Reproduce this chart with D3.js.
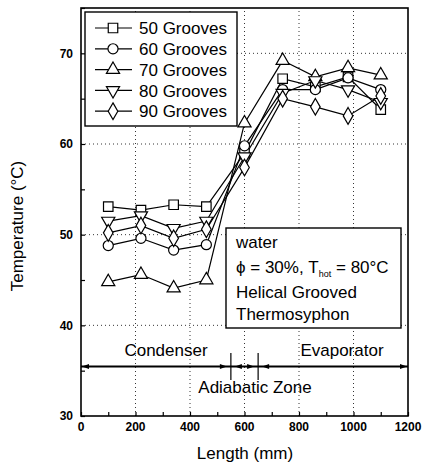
<!DOCTYPE html>
<html lang="en">
<head>
<meta charset="UTF-8">
<title>Helical Grooved Thermosyphon</title>
<style>
  body { margin: 0; background: #fff; }
  text { font-family: "Liberation Sans", Arial, sans-serif; fill: #000; }
</style>
</head>
<body>
<script src="https://d3js.org/d3.v7.min.js"></script>
<script>
    // measuring positions along the pipe (mm)
    var lengths = [100, 220, 340, 460, 600, 740, 860, 980, 1100];

    var seriesNames = ["50 Grooves", "60 Grooves", "70 Grooves", "80 Grooves", "90 Grooves"];
    var seriesSymbols = ["square", "circle", "triangle", "down", "diamond"];

    var grooves50 = [53.1, 52.7, 53.3, 53.1, 59.0, 67.2, 66.3, 67.4, 63.8];
    var grooves60 = [48.8, 49.6, 48.3, 48.9, 59.8, 66.0, 66.0, 67.3, 66.0];
    var grooves70 = [44.8, 45.6, 44.1, 45.0, 62.3, 69.2, 67.4, 68.4, 67.6];
    var grooves80 = [51.5, 52.1, 50.7, 51.5, 58.6, 65.6, 67.0, 66.0, 64.6];
    var grooves90 = [50.2, 51.0, 49.6, 50.6, 57.4, 65.0, 64.1, 63.1, 65.3];
    var allSeries = [grooves50, grooves60, grooves70, grooves80, grooves90];

    var xTicks = [0, 200, 400, 600, 800, 1000, 1200];
    var yTicks = [30, 40, 50, 60, 70];

    // zones of the thermosyphon (mm)
    var zoneBounds = [0, 550, 650, 1200];

    var width = 423, height = 466;
    var svg = d3.select("body").append("svg")
        .attr("width", width).attr("height", height);

    var x = d3.scaleLinear().domain([0, 1200]).range([81, 408]);
    var y = d3.scaleLinear().domain([30, 75]).range([416, 8]);

    // dotted grid
    svg.append("g").selectAll("line").data([200, 400, 600, 800, 1000])
        .enter().append("line")
        .attr("x1", function(d){ return x(d); }).attr("x2", function(d){ return x(d); })
        .attr("y1", y(30)).attr("y2", y(75))
        .attr("stroke", "#000").attr("stroke-width", 0.8).attr("stroke-dasharray", "1,3");
    svg.append("g").selectAll("line").data([40, 50, 60, 70])
        .enter().append("line")
        .attr("x1", x(0)).attr("x2", x(1200))
        .attr("y1", function(d){ return y(d); }).attr("y2", function(d){ return y(d); })
        .attr("stroke", "#000").attr("stroke-width", 0.8).attr("stroke-dasharray", "1,3");

    // axes, ticks pointing inward
    var xAxis = svg.append("g").attr("transform", "translate(0," + y(30) + ")")
        .call(d3.axisBottom(x).tickValues(d3.range(0, 1201, 100)).tickSize(-4).tickFormat(""));
    var yAxis = svg.append("g").attr("transform", "translate(" + x(0) + ",0)")
        .call(d3.axisLeft(y).tickValues(d3.range(30, 76, 5)).tickSize(-4).tickFormat(""));
    [xAxis, yAxis].forEach(function(a){
        a.select(".domain").remove();
        a.selectAll("line").attr("stroke", "#000").attr("stroke-width", 1.2);
    });

    svg.append("g").selectAll("text").data(xTicks).enter().append("text")
        .attr("x", function(d){ return x(d); }).attr("y", 431)
        .attr("text-anchor", "middle").attr("font-size", 12).attr("font-weight", "bold")
        .text(function(d){ return d; });
    svg.append("g").selectAll("text").data(yTicks).enter().append("text")
        .attr("x", 73).attr("y", function(d){ return y(d); }).attr("dy", "0.35em")
        .attr("text-anchor", "end").attr("font-size", 12).attr("font-weight", "bold")
        .text(function(d){ return d; });

    svg.append("rect")
        .attr("x", x(0)).attr("y", y(75))
        .attr("width", x(1200) - x(0)).attr("height", y(30) - y(75))
        .attr("fill", "none").attr("stroke", "#000").attr("stroke-width", 1.6);

    svg.append("text").attr("x", 245).attr("y", 459)
        .attr("text-anchor", "middle").attr("font-size", 17).text("Length (mm)");
    svg.append("text").attr("transform", "translate(23,226) rotate(-90)")
        .attr("text-anchor", "middle").attr("font-size", 17).text("Temperature (°C)");

    // markers
    var symbolTypes = {
        square: d3.symbolSquare, circle: d3.symbolCircle, triangle: d3.symbolTriangle,
        down: d3.symbolTriangle, diamond: d3.symbolDiamond
    };
    var symbolSizes = { square: 90, circle: 80, triangle: 75, down: 75, diamond: 80 };
    function marker(g, kind, cx, cy) {
        g.append("path")
            .attr("d", d3.symbol().type(symbolTypes[kind]).size(symbolSizes[kind])())
            .attr("transform", "translate(" + cx + "," + cy + ")" + (kind == "down" ? " rotate(180)" : ""))
            .attr("fill", "#fff").attr("stroke", "#000").attr("stroke-width", 1.2);
    }

    var line = d3.line()
        .x(function(d, i){ return x(lengths[i]); })
        .y(function(d){ return y(d); });

    allSeries.forEach(function(vals){
        svg.append("path").datum(vals).attr("d", line)
            .attr("fill", "none").attr("stroke", "#000").attr("stroke-width", 1.2);
    });
    allSeries.forEach(function(vals, s){
        var g = svg.append("g");
        vals.forEach(function(v, i){ marker(g, seriesSymbols[s], x(lengths[i]), y(v)); });
    });

    // legend
    var leg = svg.append("g");
    leg.append("rect").attr("x", 85).attr("y", 12).attr("width", 152).attr("height", 114)
        .attr("fill", "#fff").attr("stroke", "#000").attr("stroke-width", 1.4);
    seriesNames.forEach(function(name, i){
        var ly = 28 + i * 20.8;
        leg.append("line").attr("x1", 95).attr("x2", 132).attr("y1", ly).attr("y2", ly)
            .attr("stroke", "#000").attr("stroke-width", 1.2);
        marker(leg, seriesSymbols[i], 113, ly);
        leg.append("text").attr("x", 139).attr("y", ly).attr("dy", "0.36em")
            .attr("font-size", 17).text(name);
    });

    // annotation box
    var note = svg.append("g");
    note.append("rect").attr("x", 226).attr("y", 228).attr("width", 175).attr("height", 100)
        .attr("fill", "#fff").attr("stroke", "#000").attr("stroke-width", 1.4);
    note.append("text").attr("x", 236).attr("y", 248).attr("font-size", 17).text("water");
    var t2 = note.append("text").attr("x", 236).attr("y", 273).attr("font-size", 17);
    t2.append("tspan").text("ϕ = 30%, T");
    t2.append("tspan").attr("font-size", 9).attr("dy", 4).text("hot");
    t2.append("tspan").attr("dy", -4).text(" = 80°C");
    note.append("text").attr("x", 236).attr("y", 298).attr("font-size", 17).text("Helical Grooved");
    note.append("text").attr("x", 236).attr("y", 320).attr("font-size", 17).text("Thermosyphon");

    // zone arrows
    var zy = 366.5;
    svg.append("line").attr("x1", x(0)).attr("x2", x(1200)).attr("y1", zy).attr("y2", zy)
        .attr("stroke", "#000").attr("stroke-width", 1.8);
    [550, 650].forEach(function(b){
        svg.append("line").attr("x1", x(b)).attr("x2", x(b)).attr("y1", 353).attr("y2", 380)
            .attr("stroke", "#000").attr("stroke-width", 1.2);
    });
    function arrowHead(tipX, dir) {
        svg.append("path")
            .attr("d", "M" + tipX + "," + zy + "l" + (-dir * 7) + ",-2.6l0,5.2z")
            .attr("fill", "#000");
    }
    arrowHead(x(zoneBounds[0]) + 1, -1);
    arrowHead(x(zoneBounds[1]) - 4, 1);
    arrowHead(x(zoneBounds[1]) + 4, -1);
    arrowHead(x(zoneBounds[2]) - 4, 1);
    arrowHead(x(zoneBounds[2]) + 4, -1);
    arrowHead(x(zoneBounds[3]) - 1, 1);

    svg.append("text").attr("x", 166).attr("y", 356).attr("text-anchor", "middle")
        .attr("font-size", 17).text("Condenser");
    svg.append("text").attr("x", 342).attr("y", 356).attr("text-anchor", "middle")
        .attr("font-size", 17).text("Evaporator");
    svg.append("text").attr("x", 255).attr("y", 393).attr("text-anchor", "middle")
        .attr("font-size", 17).text("Adiabatic Zone");
</script>
</body>
</html>
